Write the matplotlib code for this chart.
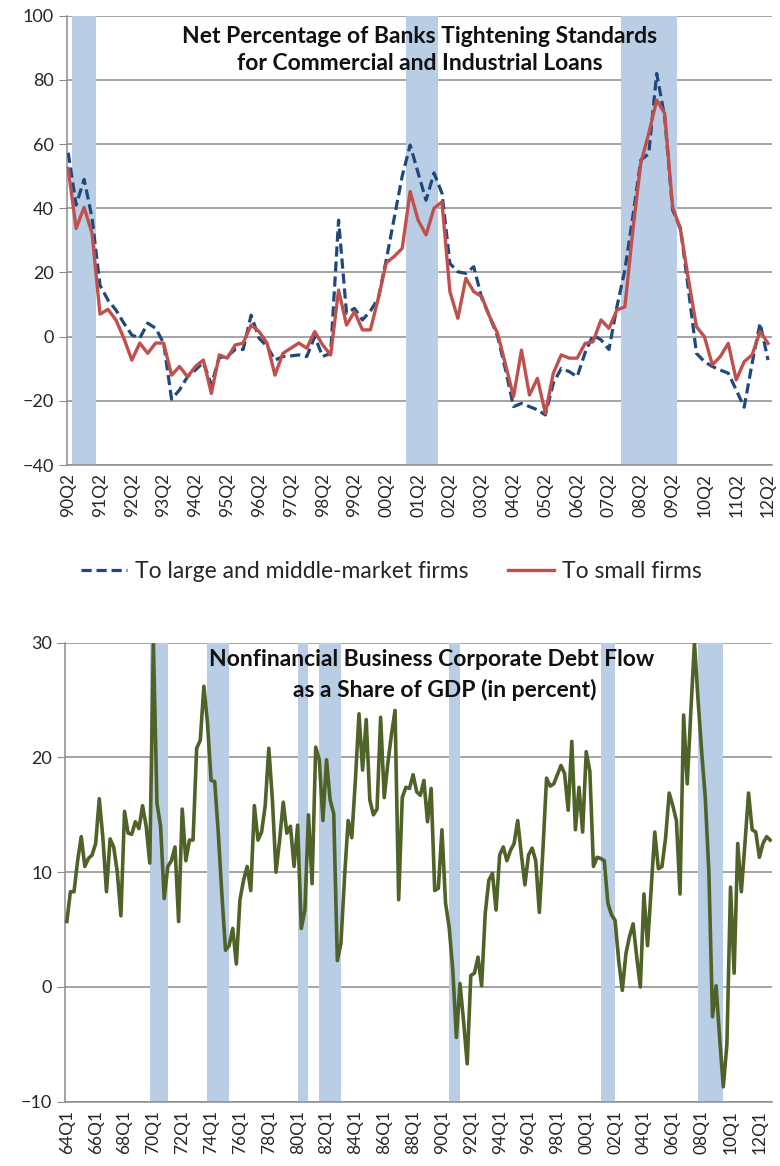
import matplotlib
matplotlib.use("Agg")
import matplotlib.pyplot as plt
import numpy as np
import pandas as pd

# ---------------- data ----------------
# Net percentage of banks tightening C&I standards, 1990Q2-2012Q2
large_mid_firms = [
    57.3, 41, 49, 37, 16, 11.4, 8.3, 4.2, 0.5, -0.5, 4.2, 2.6, -2, -19.5, -16.6, -12.5,
    -10.4, -8, -15, -6.5, -6.2, -4, -4, 6.7, -0.5, -3, -7.3, -6.2, -6, -5.7, -6.2, 0,
    -6.2, -5.2, 36.3, 7.3, 8.8, 5.2, 8, 12, 24, 37, 50, 59.7, 51, 42.5, 51, 44.7,
    22.8, 20.2, 19.7, 21.8, 12, 6.2, 0, -10.4, -21.8, -20.8, -21.8, -22.8, -24.4, -14.5, -9.9, -10.9,
    -12.5, -5, 0.5, -1, -4, 9.3, 20.8, 37.4, 55, 57, 82, 68.5, 39.5, 33.7, 14.5, -5.2,
    -7.8, -9.3, -10.4, -11.4, -16.6, -22, -8.3, 4.2, -7.3,
]
small_firms = [
    52.4, 33.7, 40.3, 32.2, 7, 8.5, 5.2, -0.5, -7.3, -2, -5.2, -2, -2, -12, -9.3, -12.5,
    -9.3, -7.3, -17.7, -5.7, -6.7, -2.6, -2, 3.6, 1.6, -2, -12, -5.2, -3.6, -2, -3.6, 1.6,
    -2.6, -5.7, 14.5, 3.6, 7.8, 2.1, 2.1, 12, 23, 25, 27.5, 45.2, 36.3, 31.7, 40, 42,
    14, 5.7, 18.2, 14, 12.5, 6.2, 1, -8.8, -18.7, -4.2, -18.2, -13, -23.9, -11.4, -5.7, -6.7,
    -6.7, -2.1, -1.6, 5.2, 2.6, 8.3, 9.3, 33, 54, 63.3, 73.7, 69.6, 40.5, 33.2, 17.7, 3.1,
    0, -8.8, -6.2, -2.1, -13.5, -7.8, -5.7, 1.6, -2.1,
]
loans_start = "1990Q2"

# Nonfinancial corporate debt flow, percent of GDP, 1964Q1-2012Q4
debt_flow = [
    5.7, 8.3, 8.3, 11, 13.1, 10.5, 11.2, 11.5, 12.5, 16.4, 13, 8.3, 12.9, 12.2, 10, 6.2,
    15.3, 13.4, 13.3, 14.4, 13.8, 15.8, 14, 10.8, 30, 16, 14, 7.7, 10.5, 11, 12.2, 5.7,
    15.5, 11, 12.8, 12.8, 20.8, 21.5, 26.2, 23, 18, 17.9, 13.4, 8, 3.2, 3.6, 5.1, 2.0,
    7.6, 9.3, 10.5, 8.4, 15.8, 12.8, 13.5, 15.8, 20.8, 16.3, 10, 12.8, 16.1, 13.4, 14, 10.5,
    14.1, 5.1, 6.7, 15, 9, 20.9, 19.8, 14.5, 19.8, 16.3, 15.1, 2.3, 3.8, 9.6, 14.5, 13,
    18, 23.8, 18.9, 23.3, 16.3, 15, 15.5, 23.5, 16.5, 19.5, 22, 24.1, 7.6, 16.5, 17.4, 17.3,
    18.5, 17, 16.7, 18, 14.4, 17.3, 8.4, 8.6, 13.7, 7.3, 5.2, 1.5, -4.4, 0.3, -3, -6.7,
    1.0, 1.2, 2.6, 0.1, 6.4, 9.3, 9.9, 6.7, 11.5, 12.2, 11, 11.9, 12.5, 14.5, 11.6, 8.9,
    11.5, 12.1, 11, 6.5, 12, 18.2, 17.5, 17.7, 18.5, 19.3, 18.6, 15.4, 21.4, 13.7, 17.4, 13.5,
    20.5, 18.8, 10.5, 11.3, 11.2, 11, 7.3, 6.3, 5.8, 2.3, -0.3, 2.9, 4.4, 5.5, 2.6, 0,
    8.1, 3.6, 8.5, 13.5, 10.3, 10.5, 13, 16.9, 15.8, 14.5, 8.1, 23.7, 17.7, 24, 30, 25,
    20.5, 16.5, 10, -2.6, 0.1, -4.5, -8.7, -5, 8.7, 1.2, 12.5, 8.3, 12.5, 16.9, 13.7, 13.5,
    11.3, 12.5, 13.1, 12.8,
]
debt_start = "1964Q1"

# NBER recessions (first quarter, last quarter)
recessions = [
    ("1969Q4", "1970Q4"), ("1973Q4", "1975Q1"), ("1980Q1", "1980Q3"),
    ("1981Q3", "1982Q4"), ("1990Q3", "1991Q1"), ("2001Q1", "2001Q4"),
    ("2007Q4", "2009Q2"),
]

legend_labels = ["To large and middle-market firms", "To small firms"]
title_top = "Net Percentage of Banks Tightening Standards\nfor Commercial and Industrial Loans"
title_bottom = ["Nonfinancial Business Corporate Debt Flow",
                "as a Share of GDP (in percent)"]

# ---------------- style ----------------
FONT = ["Lato", "DejaVu Sans"]
plt.rcParams["font.family"] = FONT
GRID = "#8c8c8c"
BAND = "#b9cde5"
TXT = "#262626"


def quarter_labels(start, n):
    per = pd.period_range(start=start, periods=n, freq="Q")
    return [f"{p.year % 100:02d}Q{p.quarter}" for p in per], per


def style_axis(ax, ylim, yticks):
    ax.set_ylim(*ylim)
    ax.set_yticks(yticks)
    ax.yaxis.grid(True, color=GRID, lw=1.1, zorder=0)
    ax.set_axisbelow(True)
    for s in ("top", "right"):
        ax.spines[s].set_visible(False)
    for s in ("left", "bottom"):
        ax.spines[s].set_color(GRID)
        ax.spines[s].set_linewidth(1.1)
    ax.tick_params(axis="y", length=6, color=GRID, labelsize=13,
                   labelcolor=TXT, pad=3.5)
    ax.tick_params(axis="x", length=0, labelsize=12.5, labelcolor=TXT,
                   labelrotation=90, pad=6)


def shade(ax, periods, first, n, lo, hi):
    for a, b in periods:
        ia = (pd.Period(a, "Q") - first).n
        ib = (pd.Period(b, "Q") - first).n
        if ib < 0 or ia > n:
            continue
        ax.axvspan(ia + lo, ib + hi, color=BAND, lw=0, zorder=1)


fig = plt.figure(figsize=(7.8, 11.66), dpi=100)

# ---------------- top panel ----------------
ax1 = fig.add_axes([67 / 780, 1 - 465 / 1166, 705 / 780, (465 - 15.7) / 1166])
n1 = len(small_firms)
lab1, per1 = quarter_labels(loans_start, n1)
x1 = np.arange(n1)
shade(ax1, recessions, per1[0], n1, -0.5, 0.5)
ax1.plot(x1, large_mid_firms, color="#1f497d", lw=2.3, ls=(0, (3.2, 1.5)),
         zorder=3, label=legend_labels[0])
ax1.plot(x1, small_firms, color="#c0504d", lw=2.4, zorder=4,
         label=legend_labels[1])
style_axis(ax1, (-40, 100), np.arange(-40, 101, 20))
ax1.set_xlim(-0.15, n1 - 0.5)
ax1.set_xticks(x1[::4])
ax1.set_xticklabels(lab1[::4])
ax1.text(0.5, 0.9237, title_top, transform=ax1.transAxes, ha="center",
         va="center", fontsize=16.5, fontweight="bold", color="#111111",
         linespacing=1.4, zorder=5)

h, l = ax1.get_legend_handles_labels()
fig.legend(h, l, loc="center", bbox_to_anchor=(0.502, 1 - 572 / 1166),
           ncol=2, frameon=False, fontsize=16.5, handlelength=2.0,
           handletextpad=0.35, columnspacing=1.75, labelcolor=TXT)

# ---------------- bottom panel ----------------
ax2 = fig.add_axes([65 / 780, 1 - 1101.7 / 1166, 707 / 780, (1101.7 - 642.7) / 1166])
n2 = len(debt_flow)
lab2, per2 = quarter_labels(debt_start, n2)
x2 = np.arange(n2)
shade(ax2, recessions, per2[0], n2, 0.0, 1.0)
ax2.plot(x2, debt_flow, color="#4f6228", lw=2.6, zorder=3,
         solid_joinstyle="round")
style_axis(ax2, (-10, 30), np.arange(-10, 31, 10))
ax2.set_xlim(-0.5, n2 - 0.5)
ax2.set_xticks(x2[::8])
ax2.set_xticklabels(lab2[::8])
for text, (xc, yc) in zip(title_bottom, [(432, 660), (445, 690)]):
    fig.text(xc / 780, 1 - yc / 1166, text, ha="center", va="center",
             fontsize=16.5, fontweight="bold", color="#111111", zorder=5)

fig.savefig("out.png", dpi=100)
